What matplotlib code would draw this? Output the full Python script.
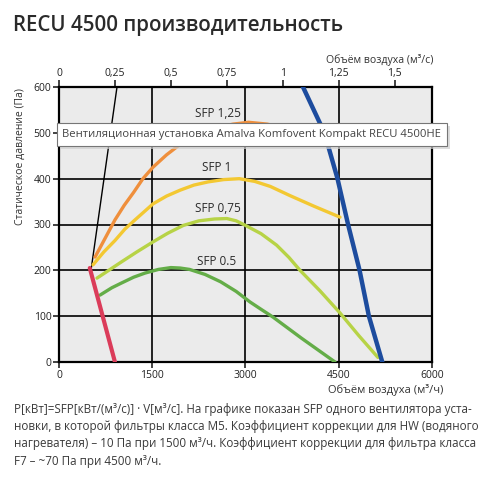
import matplotlib
matplotlib.use('Agg')
import matplotlib.pyplot as plt
from matplotlib.patches import Rectangle
import numpy as np

plt.rcParams['font.family'] = ['Open Sans', 'DejaVu Sans']

W, H = 493, 483

# data (м³/ч, Па)
red_x = [495, 900]
red_y = [205, 0]
black_x = [520, 933]
black_y = [205, 600]
blue_x = [3925, 4270, 4480, 4650, 4835, 4985, 5200]
blue_y = [600, 500, 400, 300, 200, 100, 0]

sfp125_x = [580, 750, 900, 1050, 1200, 1350, 1512, 1730, 1950, 2200, 2500, 2800, 3050, 3350, 3700, 4000, 4250]
sfp125_y = [229, 272, 310, 342, 370, 400, 425, 452, 475, 495, 510, 519, 523, 519, 508, 494, 480]
sfp1_x = [547, 720, 900, 1060, 1222, 1512, 1730, 1950, 2170, 2400, 2650, 2900, 3150, 3400, 3716, 4100, 4520]
sfp1_y = [212, 240, 265, 290, 310, 345, 362, 375, 386, 393, 398, 400, 394, 383, 363, 340, 316]
sfp075_x = [611, 800, 1000, 1250, 1512, 1750, 2000, 2250, 2500, 2700, 2850, 3000, 3250, 3500, 3700, 3877, 4200, 4520, 4820, 5130]
sfp075_y = [183, 200, 218, 240, 262, 281, 298, 308, 312, 313, 308, 298, 280, 255, 228, 200, 155, 107, 58, 10]
sfp05_x = [660, 850, 1000, 1200, 1383, 1600, 1800, 1950, 2100, 2350, 2600, 2850, 3072, 3250, 3442, 3900, 4440]
sfp05_y = [146, 162, 172, 185, 194, 202, 206, 205, 202, 191, 175, 154, 131, 115, 98, 52, 0]

sfp_labels = ['SFP 1,25', 'SFP 1', 'SFP 0,75', 'SFP 0.5']
label_x = [2558, 2541, 2558, 2541]
label_y = [543, 425, 334, 220]

xticks_h = [0, 1500, 3000, 4500, 6000]
yticks = [0, 100, 200, 300, 400, 500, 600]
xticks_s = [0, 0.25, 0.5, 0.75, 1, 1.25, 1.5]
xticks_s_lbl = ['0', '0,25', '0,5', '0,75', '1', '1,25', '1,5']

title = 'RECU 4500 производительность'
tooltip = 'Вентиляционная установка Amalva Komfovent Kompakt RECU 4500HE'
note = ['P[кВт]=SFP[кВт/(м³/с)] · V[м³/с]. На графике показан SFP одного вентилятора уста-',
        'новки, в которой фильтры класса M5. Коэффициент коррекции для HW (водяного',
        'нагревателя) – 10 Па при 1500 м³/ч. Коэффициент коррекции для фильтра класса',
        'F7 – ~70 Па при 4500 м³/ч.']

fig = plt.figure(figsize=(W/100, H/100), dpi=100)
ax = fig.add_axes([59/W, 1-362/H, 373/W, 275/H])
ax.set_facecolor('#ebebeb')
ax.set_xlim(0, 6000)
ax.set_ylim(0, 600)

for gx in xticks_h[1:-1]:
    ax.axvline(gx, color='black', lw=1.2, zorder=1)
for gy in yticks[1:-1]:
    ax.axhline(gy, color='black', lw=1.2, zorder=1)

ax.plot(black_x, black_y, color='black', lw=1.0, zorder=3)
ax.plot(sfp125_x, sfp125_y, color='#ef8f3c', lw=2.4, zorder=3, solid_capstyle='round')
ax.plot(sfp1_x, sfp1_y, color='#f3c832', lw=2.4, zorder=3, solid_capstyle='round')
ax.plot(sfp075_x, sfp075_y, color='#b7d346', lw=2.4, zorder=3, solid_capstyle='round')
ax.plot(sfp05_x, sfp05_y, color='#64ad48', lw=2.4, zorder=3, solid_capstyle='round')
ax.plot(red_x, red_y, color='#db3c5a', lw=3.0, zorder=4, solid_capstyle='round')
ax.plot(blue_x, blue_y, color='#1d4c9e', lw=3.2, zorder=4)

for t, lx, ly in zip(sfp_labels, label_x, label_y):
    ax.text(lx, ly, t, ha='center', va='center', fontsize=8.5, color='#2a2a2a', zorder=5)

for s in ax.spines.values():
    s.set_linewidth(1.6)
ax.set_xticks(xticks_h)
ax.set_yticks(yticks)
ax.tick_params(axis='both', length=4, width=1.2, labelsize=7.5, colors='#222222', pad=1.5)

top = ax.secondary_xaxis('top', functions=(lambda v: v / 3600, lambda v: v * 3600))
top.set_xticks(xticks_s)
top.set_xticklabels(xticks_s_lbl)
top.tick_params(length=5, width=1.2, labelsize=7.5, colors='#222222', pad=0.5)
top.spines['top'].set_visible(False)

fig.text(433/W, 1-60/H, 'Объём воздуха (м³/с)', ha='right', va='center', fontsize=7.6, color='#333333')
fig.text(443/W, 1-390/H, 'Объём воздуха (м³/ч)', ha='right', va='center', fontsize=8, color='#333333')
fig.text(20/W, 1-157/H, 'Статическое давление (Па)', rotation=90, ha='center', va='center',
         fontsize=7.5, color='#333333')

fig.text(13/W, 1-26/H, title, ha='left', va='center', fontsize=14.8, fontweight='semibold', color='#2a2a2a')

for i, line in enumerate(note):
    fig.text(14/W, 1-(409 + i*17.5)/H, line, ha='left', va='center', fontsize=8.4, color='#3a3a3a')

# tooltip box
fig.patches.append(Rectangle((60/W, 1-149/H), 390/W, 23/H, transform=fig.transFigure,
                             facecolor='#cfcfcf', edgecolor='none', zorder=5, alpha=0.7))
fig.patches.append(Rectangle((57/W, 1-146/H), 390/W, 23/H, transform=fig.transFigure,
                             facecolor='white', edgecolor='#767676', lw=0.8, zorder=6))
fig.text(62/W, 1-134.5/H, tooltip, ha='left', va='center', fontsize=8.15, color='#444444', zorder=7)

fig.savefig('out.png', dpi=100)
